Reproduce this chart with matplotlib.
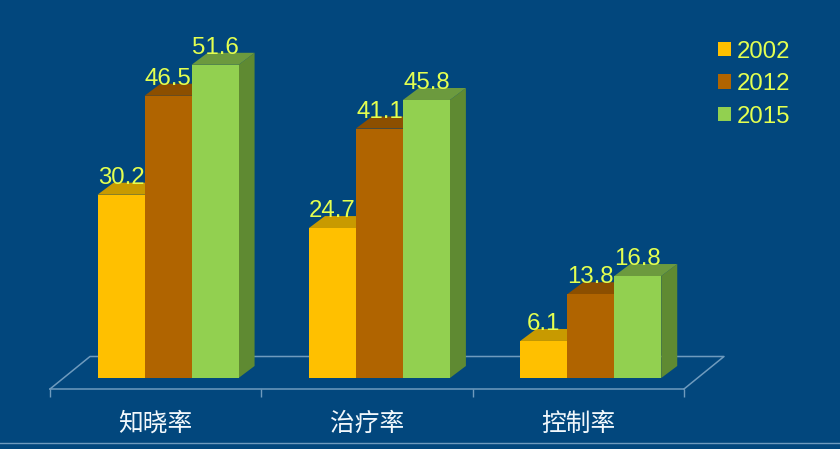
import numpy as np
import matplotlib
matplotlib.use('Agg')
import matplotlib.pyplot as plt
from matplotlib.lines import Line2D
from matplotlib.patches import Patch, Polygon

categories = ['知晓率', '治疗率', '控制率']
years = ['2002', '2012', '2015']
values_2002 = [30.2, 24.7, 6.1]
values_2012 = [46.5, 41.1, 13.8]
values_2015 = [51.6, 45.8, 16.8]

bg = '#02477D'
axis_col = '#6F9BBE'
text_yellow = '#E4FF50'
front_cols = ['#FFC000', '#B06400', '#92D050']
top_cols = ['#C89A00', '#8C4F00', '#6C9A3E']
side_cols = ['#A67F00', '#7A4500', '#5F8A32']

W, H = 840, 449
left, right, bottom = 50, 684, 389
px_x = 3 / (right - left)   # data units per pixel
px_y = 1 / 6.07

fig = plt.figure(figsize=(W / 100, H / 100), dpi=100, facecolor=bg)
ax = fig.add_axes([left / W, (H - bottom) / H, (right - left) / W, bottom / H])
ax.set_facecolor('none')
ax.set_xlim(-0.5, 2.5)
ax.set_ylim(-11 * px_y, (bottom - 11) * px_y)

for s in ['top', 'left', 'right']:
    ax.spines[s].set_visible(False)
ax.spines['bottom'].set_color(axis_col)
ax.spines['bottom'].set_linewidth(1.1)
ax.set_yticks([])
ax.set_xticks([-0.5, 0.5, 1.5, 2.5])
ax.set_xticklabels([])
ax.tick_params(axis='x', which='major', length=6, width=1, color=axis_col)
ax.set_xticks([0, 1, 2], minor=True)
ax.set_xticklabels(categories, minor=True, color='#F2F8FC', fontsize=17.8,
                   family=['Noto Sans CJK SC', 'DejaVu Sans'])
ax.tick_params(axis='x', which='minor', length=0, pad=15.5)

# floor of the fake 3d chart
dep_floor_x = 40 * px_x
dep_floor_y = 32.5 * px_y
y0 = -11 * px_y
ax.plot([-0.5, -0.5 + dep_floor_x, 2.5 + dep_floor_x, 2.5], [y0, y0 + dep_floor_y, y0 + dep_floor_y, y0],
        color=axis_col, lw=1.1, clip_on=False, zorder=1)

# bars, side and top faces are offset by a fixed depth
width = 47 * px_x
shift = 12.4 * px_x
dx = 16 * px_x
dy = 12 * px_y
series = [values_2002, values_2012, values_2015]
x = np.arange(len(categories))
for i, vals in enumerate(series):
    pos = x + shift + (i - 1) * width
    ax.bar(pos, vals, width, color=front_cols[i], clip_on=False, zorder=3 + i * 2)
    for p, v in zip(pos, vals):
        r = p + width / 2
        l = p - width / 2
        ax.add_patch(Polygon([(r, 0), (r + dx, dy), (r + dx, v + dy), (r, v)], closed=True,
                             fc=side_cols[i], ec='none', clip_on=False, zorder=2 + i * 2))
        ax.add_patch(Polygon([(l, v), (l + dx, v + dy), (r + dx, v + dy), (r, v)], closed=True,
                             fc=top_cols[i], ec='none', clip_on=False, zorder=2 + i * 2))
        ax.text(p, v + 11 * px_y, f'{v:.1f}', color=text_yellow, fontsize=17.3, family='Liberation Sans',
                ha='center', va='baseline', zorder=20)

handles = [Patch(fc=c, ec='none') for c in front_cols]
leg = ax.legend(handles, years, loc='upper left', bbox_to_anchor=(718 / W, (H - 40.5) / H),
                bbox_transform=fig.transFigure, frameon=False, borderpad=0, borderaxespad=0,
                handlelength=0.55, handleheight=0.55, handletextpad=0.25, labelspacing=0.44,
                prop={'family': 'Liberation Sans', 'size': 17.3})
for t in leg.get_texts():
    t.set_color(text_yellow)

# thin line at the bottom of the slide
fig.add_artist(Line2D([0, 1], [(H - 443) / H, (H - 443) / H], color=axis_col, lw=1))

fig.savefig('out.png', dpi=100, facecolor=bg)
